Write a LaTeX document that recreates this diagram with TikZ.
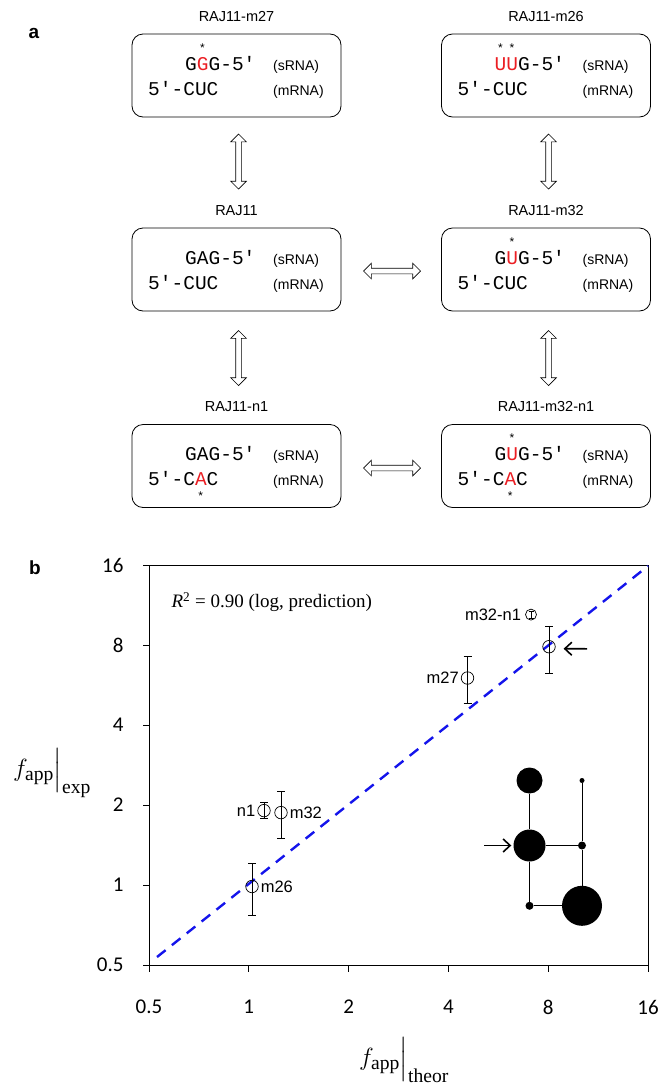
\documentclass[tikz,border=0pt]{standalone}
\usepackage{amsmath}
\usepackage{fontspec}
\setmainfont{Liberation Sans}
\setmonofont{Liberation Mono}
\newfontfamily\seriffont{Liberation Serif}
\newfontfamily\tickfont{Carlito}
\usetikzlibrary{shapes.arrows, arrows.meta, positioning, calc}
\definecolor{mutred}{RGB}{235,30,35}
\definecolor{fitblue}{RGB}{20,20,235}
\tikzset{
  seqbox/.style={draw, rounded corners=11pt, minimum width=209pt, minimum height=83pt, line width=0.8pt},
  boxtitle/.style={font=\fontsize{14.5}{16}\selectfont},
  seqtxt/.style={font=\ttfamily\fontsize{19.5}{20}\selectfont, inner sep=0pt, anchor=base west},
  tagtxt/.style={font=\fontsize{14}{15}\selectfont, inner sep=0pt, anchor=base west},
  startxt/.style={font=\ttfamily\fontsize{12}{12}\selectfont, inner sep=0pt},
  swaparrow/.style={draw, double arrow, double arrow head extend=5pt, minimum height=55pt, minimum width=14pt, inner sep=2.5pt, line width=0.7pt},
  datapt/.style={draw, circle, minimum size=12.5pt, inner sep=0pt, line width=0.7pt},
  ptlabel/.style={font=\fontsize{16.5}{18}\selectfont, inner sep=1pt},
  ticklabel/.style={font=\tickfont\fontsize{21}{22}\selectfont},
  netnode/.style={fill, circle, inner sep=0pt},
  axlabel/.style={font=\seriffont\fontsize{28}{30}\selectfont},
}
\newcommand{\rnabox}[5]{%
  % #1 name, #2 cx, #3 cy, #4 title, #5 sRNA text
  \node[seqbox] (#1) at (#2,#3) {};
  \node[boxtitle] (#1-t) at (#2,#3-59) {#4};
  \node[seqtxt] (#1-s) at (#2-51.5,#3-5.5) {#5};
  \node[tagtxt] (#1-sl) at (#2+36.5,#3-5.5) {(sRNA)};
  \node[tagtxt] (#1-ml) at (#2+36.5,#3+19.5) {(mRNA)};
}
\newcommand{\fapp}[1]{$f_{\text{\seriffont app}}\Big|_{\text{\seriffont #1}}$}
\begin{document}
\begin{tikzpicture}[x=1pt,y=-1pt]
    \useasboundingbox (0,0) rectangle (661,1090);
    \def\cw{11.7}
    % panel a
    \node[font=\bfseries\fontsize{19}{20}\selectfont] (lbla) at (34,33) {a};
    \rnabox{m27}{236.5}{75.5}{RAJ11-m27}{G\textcolor{mutred}{G}G-5′}
    \rnabox{m26}{546}{75.5}{RAJ11-m26}{\textcolor{mutred}{UU}G-5′}
    \rnabox{raj}{236.5}{269.5}{RAJ11}{GAG-5′}
    \rnabox{m32}{546}{269.5}{RAJ11-m32}{G\textcolor{mutred}{U}G-5′}
    \rnabox{n1}{236.5}{466}{RAJ11-n1}{GAG-5′}
    \rnabox{m32n1}{546}{466}{RAJ11-m32-n1}{G\textcolor{mutred}{U}G-5′}
    % mRNA lines
    \foreach \b/\cx/\cy in {m27/236.5/75.5, m26/546/75.5, raj/236.5/269.5, m32/546/269.5}
      \node[seqtxt] (\b-m) at (\cx-88.5,\cy+19.5) {5′-CUC};
    \node[seqtxt] (n1-m) at (148,485.5) {5′-C\textcolor{mutred}{A}C};
    \node[seqtxt] (m32n1-m) at (457.5,485.5) {5′-C\textcolor{mutred}{A}C};
    % stars
    \foreach \sx/\sy in {185/48, 494.5/48, 482.8/48, 494.5/242, 494.5/438.5}
      \node[startxt] at (\sx+1.5*\cw,\sy) {*};
    \node[startxt] at (148+4.5*\cw,496) {*};
    \node[startxt] at (457.5+4.5*\cw,496) {*};
    % arrows between boxes
    \node[swaparrow, rotate=90] (a1) at (238.5,161.5) {};
    \node[swaparrow, rotate=90] (a2) at (548.5,161.5) {};
    \node[swaparrow, rotate=90] (a3) at (238.5,358) {};
    \node[swaparrow, rotate=90] (a4) at (548.5,358) {};
    \node[swaparrow, minimum height=57pt] (a5) at (392,271) {};
    \node[swaparrow, minimum height=57pt] (a6) at (392,468) {};

    % panel b
    \node[font=\bfseries\fontsize{19}{20}\selectfont] (lblb) at (35,568) {b};
    \def\xo{149} \def\xs{99.8}
    \def\yo{965} \def\ys{80}
    \draw[line width=0.8pt] (149,565) rectangle (648.5,965);
    \foreach \v/\k in {0.5/0, 1/1, 2/2, 4/3, 8/4, 16/5} {
      \draw[line width=0.8pt] (\xo+\k*\xs,965) -- ++(0,7);
      \draw[line width=0.8pt] (149,\yo-\k*\ys) -- ++(-6,0);
      \node[ticklabel] at (\xo+\k*\xs,1007) {\v};
      \node[ticklabel, anchor=east] at (127,\yo-\k*\ys) {\v};
    }
    \draw[fitblue, line width=2.4pt, dash pattern=on 11pt off 8pt] (157,957) -- (648,566);
    \node[anchor=west, font=\seriffont\fontsize{19}{20}\selectfont] (rsq) at (168,602) {\textit{R}\textsuperscript{2} = 0.90 (log, prediction)};
    % data with error bars
    \foreach \nm/\px/\py/\lo/\hi in {m26/252/886.5/863.6/915, n1/264/810.6/802.6/818.6, m32/281/812.6/791.7/838.7, m27/467.5/678/656.8/703.8, mn/549/646.7/625.9/672.9} {
      \draw[line width=0.7pt] (\px,\lo) -- (\px,\hi);
      \draw[line width=0.7pt] (\px-4,\lo) -- (\px+4,\lo);
      \draw[line width=0.7pt] (\px-4,\hi) -- (\px+4,\hi);
      \node[datapt] (p-\nm) at (\px,\py) {};
    }
    \node[ptlabel, right=1pt of p-m26] {m26};
    \node[ptlabel, left=1pt of p-n1] {n1};
    \node[ptlabel, right=1pt of p-m32] {m32};
    \node[ptlabel, left=1pt of p-m27] {m27};
    \node[datapt, minimum size=11pt] (leg) at (531,614.6) {};
    \draw (531,611.1) -- (531,618.1) (528.5,611.1) -- (533.5,611.1) (528.5,618.1) -- (533.5,618.1);
    \node[ptlabel, left=3pt of leg] {m32-n1};
    \coordinate (ar1) at (587,648.8);
    \draw[-{Straight Barb[length=7pt,width=13pt]}, line width=1.6pt] (ar1) -- ($(p-mn.east)+(8,2)$);
    % network
    \node[netnode, minimum size=26pt] (g1) at (529.5,780.5) {};
    \node[netnode, minimum size=32pt] (g2) at (529.5,845.5) {};
    \node[netnode, minimum size=8pt] (g3) at (529.5,905.8) {};
    \node[netnode, minimum size=5pt] (g4) at (582,780.5) {};
    \node[netnode, minimum size=8pt] (g5) at (582,845.5) {};
    \node[netnode, minimum size=40pt] (g6) at (582,905.8) {};
    \draw[line width=0.7pt] (g1) -- (g2) -- (g3) -- (g6) -- (g5) -- (g4) (g2) -- (g5);
    \coordinate (ar2) at (484,845.5);
    \draw[-{Straight Barb[length=7pt,width=13pt]}, line width=1.6pt] (ar2) -- ($(g2.west)+(-2,0)$);
    % axis labels
    \node[axlabel] (ylab) at (52,773) {\fapp{exp}};
    \node[axlabel] (xlab) at (404,1060) {\fapp{theor}};
\end{tikzpicture}
\end{document}
